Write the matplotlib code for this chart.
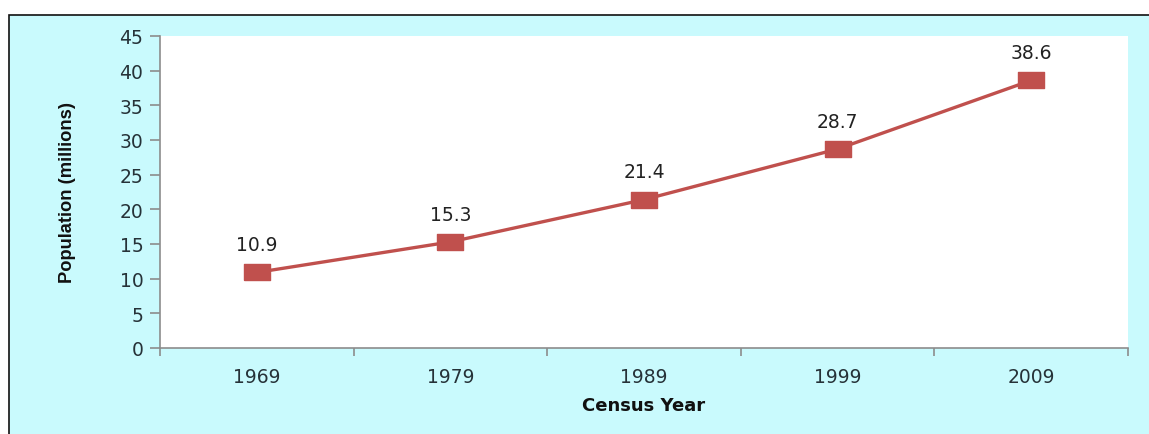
import matplotlib
matplotlib.use("Agg")
import matplotlib.pyplot as plt
from matplotlib.patches import Rectangle
import numpy as np

years = ["1969", "1979", "1989", "1999", "2009"]
population = [10.9, 15.3, 21.4, 28.7, 38.6]
y_ticks = [0, 5, 10, 15, 20, 25, 30, 35, 40, 45]

W, H = 1149, 435
fig = plt.figure(figsize=(W / 100, H / 100), dpi=100)
fig.patch.set_facecolor("white")

# light cyan chart area with a dark frame
fig.add_artist(Rectangle((8.5 / W, -0.05), 1.2, (H - 15.5) / H + 0.05,
                         transform=fig.transFigure, facecolor="#c9fafd",
                         edgecolor="#111111", linewidth=1.2, zorder=0))

ax = fig.add_axes([160 / W, 1 - 349 / H, (1128 - 160) / W, (349 - 37) / H])
ax.set_facecolor("white")

# wide rectangular marker
rect_marker = [(-1, -0.6), (1, -0.6), (1, 0.6), (-1, 0.6), (-1, -0.6)]

x = np.arange(len(years))
line_color = "#c0504d"
ax.plot(x, population, color=line_color, linewidth=2.4, marker=rect_marker,
        markersize=18.5, markerfacecolor=line_color, markeredgecolor=line_color,
        zorder=3)
for xi, v in zip(x, population):
    ax.annotate(f"{v}", (xi, v), xytext=(0, 20), textcoords="offset points",
                ha="center", va="center", fontsize=13.5, color="#222222",
                family="DejaVu Sans")

ax.set_xlim(-0.5, len(years) - 0.5)
ax.set_ylim(0, 45)
ax.set_yticks(y_ticks)
ax.set_xticks(x)
ax.set_xticklabels(years)
ax.set_xticks(np.arange(len(years) + 1) - 0.5, minor=True)

axis_gray = "#8c8c8c"
for s in ("top", "right"):
    ax.spines[s].set_visible(False)
for s in ("left", "bottom"):
    ax.spines[s].set_color(axis_gray)
    ax.spines[s].set_linewidth(1.2)

ax.tick_params(axis="y", direction="out", length=7, width=1.2, color=axis_gray,
               labelsize=13.5, labelcolor="#263238", pad=5)
ax.tick_params(axis="x", which="major", length=0, labelsize=13.5,
               labelcolor="#263238", pad=14)
ax.tick_params(axis="x", which="minor", direction="out", length=6, width=1.2,
               color=axis_gray)
for lab in ax.get_xticklabels() + ax.get_yticklabels():
    lab.set_family("DejaVu Sans")

fig.text(68 / W, 1 - 193 / H, "Population (millions)", rotation=90,
         ha="center", va="center", fontsize=13.2, fontweight="bold",
         family="Liberation Sans", color="#111111")
fig.text(644 / W, 1 - 406 / H, "Census Year", ha="center", va="center",
         fontsize=13, fontweight="bold", family="DejaVu Sans",
         color="#111111")

fig.savefig("out.png", dpi=100, facecolor=fig.get_facecolor())
